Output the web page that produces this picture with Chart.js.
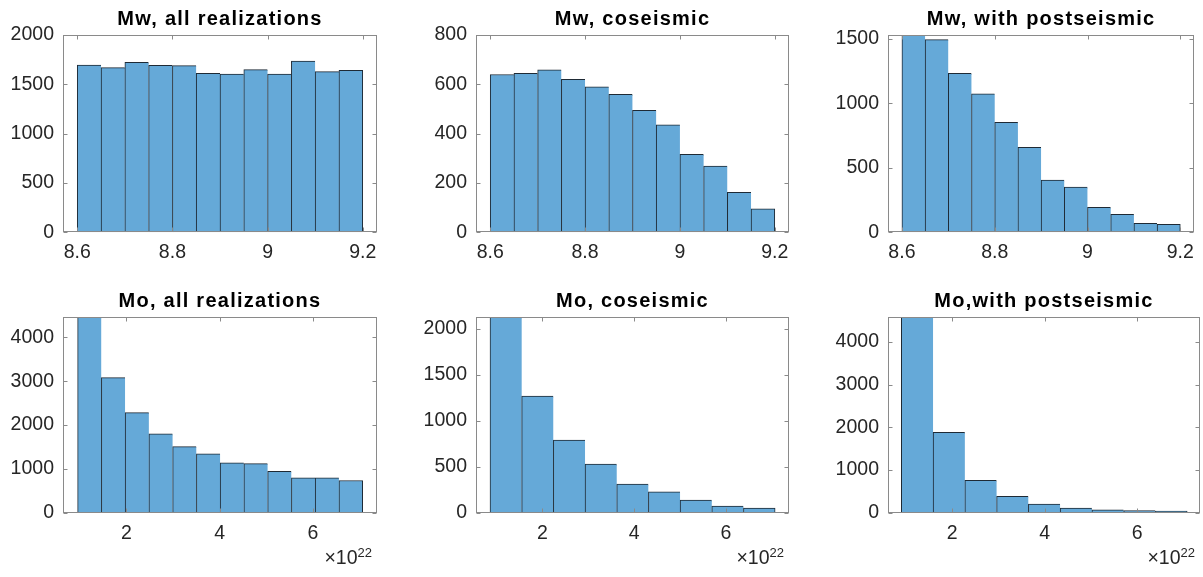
<!DOCTYPE html>
<html>
<head>
<meta charset="utf-8">
<script src="https://cdn.jsdelivr.net/npm/chart.js@4.4.1/dist/chart.umd.min.js"></script>
<style>
  html, body { margin: 0; padding: 0; background: #fff; }
  #wrap { position: relative; width: 1203px; height: 577px; overflow: hidden; }
  #wrap canvas { position: absolute; }
</style>
</head>
<body>
<div id="wrap"></div>
<script>
// bin centres (Mw in magnitude units, Mo in units of 1e22)
const mwCenters = [8.625, 8.675, 8.725, 8.775, 8.825, 8.875, 8.925, 8.975, 9.025, 9.075, 9.125, 9.175];
const moAllCenters = [1.211, 1.720, 2.229, 2.738, 3.247, 3.756, 4.264, 4.773, 5.282, 5.791, 6.300, 6.809];
const moCoCenters = [1.205, 1.895, 2.585, 3.275, 3.965, 4.655, 5.345, 6.035, 6.725];
const moPostCenters = [1.247, 1.933, 2.619, 3.305, 3.991, 4.677, 5.363, 6.049, 6.735];

// counts per bin
const mwAll = [1696, 1669, 1723, 1693, 1689, 1611, 1605, 1649, 1605, 1736, 1628, 1642];
const mwCo = [640, 645, 659, 620, 590, 559, 495, 436, 316, 269, 162, 95];
const mwPost = [1528, 1492, 1231, 1073, 852, 658, 404, 350, 194, 140, 70, 62];
const moAll = [4466, 3080, 2281, 1795, 1506, 1338, 1133, 1118, 943, 791, 791, 730];
const moCo = [2127, 1267, 788, 526, 309, 225, 134, 69, 47];
const moPost = [4585, 1879, 756, 382, 195, 101, 62, 47, 31];

// axis ticks / limits
const mwTicks = [8.6, 8.8, 9, 9.2];
const moTicks = [2, 4, 6];
const titles = ['Mw, all realizations', 'Mw, coseismic', 'Mw, with postseismic',
                'Mo, all realizations', 'Mo, coseismic', 'Mo,with postseismic'];
const yTickSets = [[0, 500, 1000, 1500, 2000], [0, 200, 400, 600, 800], [0, 500, 1000, 1500],
                   [0, 1000, 2000, 3000, 4000], [0, 500, 1000, 1500, 2000], [0, 1000, 2000, 3000, 4000]];
const yMaxes = [2000, 800, 1528, 4466, 2127, 4585];
const xLimits = [[8.57, 9.23], [8.57, 9.23], [8.57, 9.23], [0.644, 7.37], [0.555, 7.372], [0.616, 7.355]];

const panels = [
  { centers: mwCenters, counts: mwAll, xTicks: mwTicks, exp: false },
  { centers: mwCenters, counts: mwCo, xTicks: mwTicks, exp: false },
  { centers: mwCenters, counts: mwPost, xTicks: mwTicks, exp: false },
  { centers: moAllCenters, counts: moAll, xTicks: moTicks, exp: true },
  { centers: moCoCenters, counts: moCo, xTicks: moTicks, exp: true },
  { centers: moPostCenters, counts: moPost, xTicks: moTicks, exp: true }
];

// page layout: canvas cells and the wanted axes boxes
const cols = [{ x: 0, w: 400, l: 63, r: 377 }, { x: 400, w: 400, l: 476, r: 789 }, { x: 800, w: 403, l: 888, r: 1200 }];
const rows = [{ y: 0, h: 280, t: 35, b: 232.3 }, { y: 280, h: 297, t: 317, b: 512.5 }];
const Y_AXIS_W = 55, X_AXIS_H = 34;

const FONT = "'Liberation Sans', Arial, Helvetica, sans-serif";
const TEXT = '#262626';
const BOX = '#8a8a8a';

// MATLAB-style box, inward ticks on all four sides, title and x10^22 label
const matlabAxes = {
  id: 'matlabAxes',
  afterDraw(chart, args, opts) {
    const { ctx, chartArea: a, scales } = chart;
    const L = Math.round(a.left) + 0.5, R = Math.round(a.right) - 0.5;
    const T = Math.round(a.top) + 0.5, B = Math.round(a.bottom) - 0.5;
    ctx.save();
    ctx.strokeStyle = BOX;
    ctx.lineWidth = 1;
    ctx.beginPath();
    scales.x.ticks.forEach(t => {
      const px = Math.round(scales.x.getPixelForValue(t.value)) + 0.5;
      ctx.moveTo(px, B); ctx.lineTo(px, B - 4);
      ctx.moveTo(px, T); ctx.lineTo(px, T + 4);
    });
    scales.y.ticks.forEach(t => {
      const py = Math.round(scales.y.getPixelForValue(t.value)) + 0.5;
      ctx.moveTo(L, py); ctx.lineTo(L + 4, py);
      ctx.moveTo(R, py); ctx.lineTo(R - 4, py);
    });
    ctx.stroke();
    ctx.strokeRect(L, T, R - L, B - T);

    ctx.fillStyle = '#000';
    ctx.font = 'bold 20px ' + FONT;
    ctx.letterSpacing = '1.25px';
    ctx.textAlign = 'center';
    ctx.textBaseline = 'middle';
    ctx.fillText(opts.title, (a.left + a.right) / 2, a.top - 15.5);
    ctx.letterSpacing = '0px';

    if (opts.exp) {
      ctx.fillStyle = TEXT;
      ctx.textAlign = 'right';
      ctx.textBaseline = 'alphabetic';
      ctx.font = '13px ' + FONT;
      const xr = a.right - 5;
      ctx.fillText('22', xr, a.bottom + 44);
      const w22 = ctx.measureText('22').width;
      ctx.font = '19.5px ' + FONT;
      ctx.fillText('\u00d710', xr - w22, a.bottom + 51.5);
    }
    ctx.restore();
  }
};

const wrap = document.getElementById('wrap');
panels.forEach((p, i) => {
  const col = cols[i % 3], row = rows[Math.floor(i / 3)];
  const cv = document.createElement('canvas');
  cv.width = col.w; cv.height = row.h;
  cv.style.left = col.x + 'px'; cv.style.top = row.y + 'px';
  wrap.appendChild(cv);
  const last = p.counts.length - 1;
  const tickFont = { family: FONT, size: 19.5 };

  new Chart(cv, {
    type: 'bar',
    data: {
      datasets: [{
        data: p.centers.map((c, k) => ({ x: c, y: p.counts[k] })),
        backgroundColor: '#65a9d8',
        borderColor: '#1e2a35',
        borderWidth: ctx => ({ top: 1, left: 1, bottom: 0, right: ctx.dataIndex === last ? 1 : 0 }),
        borderSkipped: false,
        barPercentage: 1,
        categoryPercentage: 1
      }]
    },
    options: {
      responsive: false,
      animation: false,
      events: [],
      layout: {
        padding: {
          left: col.l - col.x - Y_AXIS_W,
          right: col.x + col.w - col.r,
          top: row.t - row.y,
          bottom: row.y + row.h - row.b - X_AXIS_H
        }
      },
      plugins: {
        legend: { display: false },
        tooltip: { enabled: false },
        matlabAxes: { title: titles[i], exp: p.exp }
      },
      scales: {
        x: {
          type: 'linear',
          min: xLimits[i][0], max: xLimits[i][1],
          offset: false,
          grid: { display: false, drawTicks: false },
          border: { display: false },
          ticks: { padding: 9, font: tickFont, color: TEXT, maxRotation: 0, autoSkip: false, callback: v => String(v) },
          afterBuildTicks: s => { s.ticks = p.xTicks.map(v => ({ value: v })); },
          afterFit: s => { s.height = X_AXIS_H; }
        },
        y: {
          min: 0, max: yMaxes[i],
          grid: { display: false, drawTicks: false },
          border: { display: false },
          ticks: { padding: 9, font: tickFont, color: TEXT, autoSkip: false, callback: v => String(v) },
          afterBuildTicks: s => { s.ticks = yTickSets[i].map(v => ({ value: v })); },
          afterFit: s => { s.width = Y_AXIS_W; }
        }
      }
    },
    plugins: [matlabAxes]
  });
});
</script>
</body>
</html>
